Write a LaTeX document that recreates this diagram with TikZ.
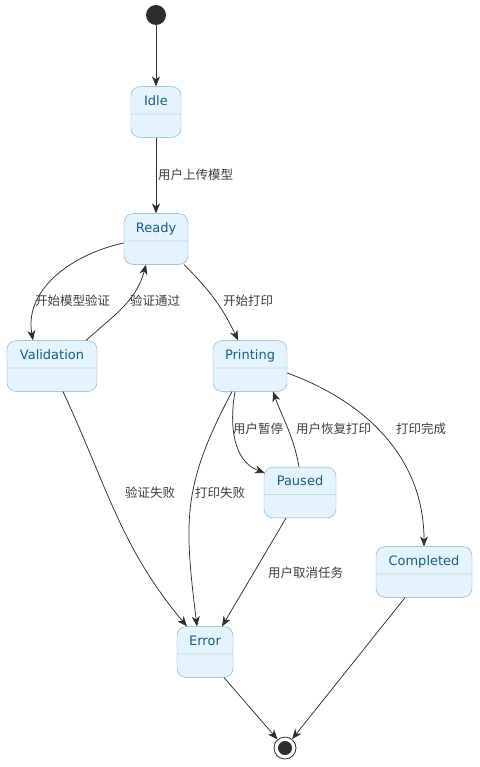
\documentclass[tikz,border=0pt]{standalone}
\usepackage{fontspec}
\setmainfont{DejaVu Sans}
\newfontfamily\cjk{Noto Sans CJK SC}
\usetikzlibrary{arrows.meta,shapes.multipart}
\definecolor{statefill}{HTML}{E4F3FD}
\definecolor{stateline}{HTML}{7FA9C4}
\definecolor{statetext}{HTML}{1B5E86}
\definecolor{edgecol}{HTML}{2E2E2E}
\definecolor{labelcol}{HTML}{3C3C3C}

\begin{document}
\begin{tikzpicture}[x=1pt, y=1pt,
    state/.style={rectangle split, rectangle split parts=2, draw=stateline,
      fill=statefill, rounded corners=9pt, text=statetext,
      font=\fontsize{13}{15}\selectfont, inner xsep=6pt, inner ysep=7pt,
      text height=11.5pt, text depth=1.5pt,
      rectangle split empty part height=9pt, rectangle split empty part depth=0pt},
    edge/.style={draw=edgecol, line width=0.75pt,
      -{Stealth[length=10pt, width=8pt, inset=3pt]}},
    lbl/.style={font=\cjk\fontsize{12.5}{14}\selectfont, text=labelcol,
      anchor=west, inner sep=0pt}]

    \useasboundingbox (0,0) rectangle (479,-767);

    \node [circle, fill=edgecol, minimum size=20pt, inner sep=0pt] (start) at (156,-15) {};
    \node [circle, draw=edgecol, line width=0.8pt, fill=white, minimum size=22pt, inner sep=0pt] (end) at (285,-748) {};
    \fill [edgecol] (end) circle (7pt);

    \node [state, minimum width=50pt] (idle) at (156,-112) {Idle \nodepart{two}};
    \node [state, minimum width=64pt] (ready) at (156,-239) {Ready \nodepart{two}};
    \node [state, minimum width=90pt] (validation) at (52,-366) {Validation \nodepart{two}};
    \node [state, minimum width=74pt] (printing) at (250,-366) {Printing \nodepart{two}};
    \node [state, minimum width=72pt] (paused) at (300,-492.5) {Paused \nodepart{two}};
    \node [state, minimum width=96pt] (completed) at (424,-572) {Completed \nodepart{two}};
    \node [state, minimum width=56pt] (error) at (205,-652) {Error \nodepart{two}};

    \draw [edge] (start) -- (idle);
    \draw [edge] (idle) -- (ready);
    \draw [edge] ([yshift=-4pt]ready.west) to[out=192, in=100] ([xshift=-19pt]validation.north);
    \draw [edge] ([xshift=34pt]validation.north) to[out=42, in=-105] ([xshift=-10pt]ready.south);
    \draw [edge] ([xshift=28pt]ready.south) to[out=-45, in=115] ([xshift=-12pt]printing.north);
    \draw [edge] ([xshift=11pt]validation.south) to[out=-65, in=130] ([xshift=-18pt]error.north);
    \draw [edge] ([xshift=-18pt]printing.south) to[out=-118, in=97, looseness=1.15] ([xshift=-8pt]error.north);
    \draw [edge] ([xshift=-15pt]printing.south) to[out=-100, in=160] ([xshift=1pt, yshift=-6pt]paused.north west);
    \draw [edge] ([xshift=-1pt]paused.north) to[out=100, in=-70] ([xshift=23pt]printing.south);
    \draw [edge] ([yshift=-7pt]printing.east) to[out=-20, in=90] (completed.north);
    \draw [edge] ([xshift=-14pt]paused.south) -- ([xshift=17pt]error.north);
    \draw [edge] ([xshift=19pt]error.south) -- (end);
    \draw [edge] ([xshift=-19pt]completed.south) -- (end);

    \node [lbl] (l-upload) at (158,-175) {用户上传模型};
    \node [lbl] (l-validate) at (35,-301) {开始模型验证};
    \node [lbl] (l-passed) at (130,-301) {验证通过};
    \node [lbl] (l-print) at (223,-301) {开始打印};
    \node [lbl] (l-valfail) at (125,-493) {验证失败};
    \node [lbl] (l-printfail) at (195,-493) {打印失败};
    \node [lbl] (l-pause) at (233,-429) {用户暂停};
    \node [lbl] (l-resume) at (296,-429) {用户恢复打印};
    \node [lbl] (l-done) at (396,-429) {打印完成};
    \node [lbl] (l-cancel) at (268,-573) {用户取消任务};

  \end{tikzpicture}
\end{document}
